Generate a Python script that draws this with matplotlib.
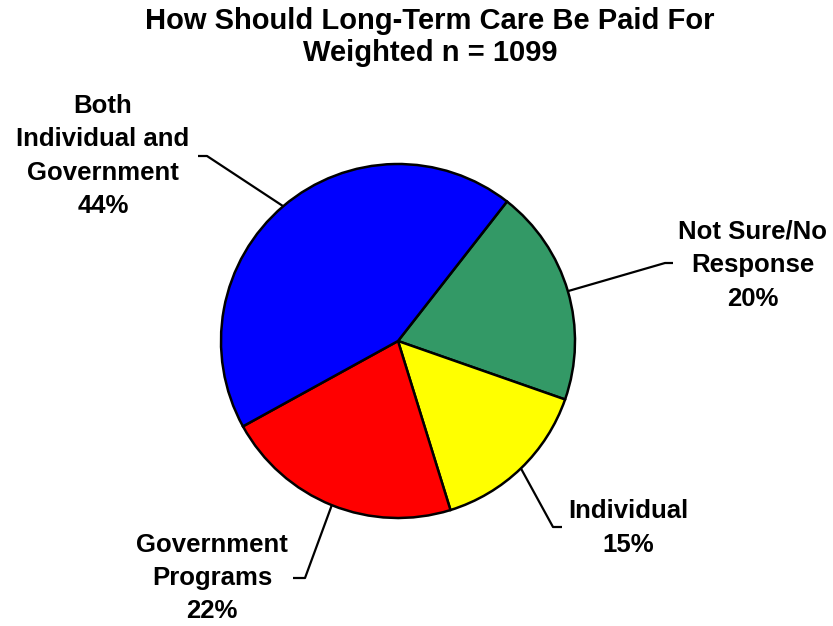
import numpy as np
import matplotlib
matplotlib.use("Agg")
import matplotlib.pyplot as plt

# Survey answers and shares (%)
labels = ["Not Sure/No\nResponse", "Individual", "Government\nPrograms", "Both\nIndividual and\nGovernment"]
shares = [20, 15, 22, 44]
colors = ["#339966", "#FFFF00", "#FF0000", "#0000FF"]

W, H = 833, 626
fig = plt.figure(figsize=(W / 100, H / 100), dpi=100)
ax = fig.add_axes([0, 0, 1, 1])

cx, cy, r = 398, H - 341, 177
wedges, _ = ax.pie(shares, colors=colors, startangle=52, counterclock=False,
                   center=(cx, cy), radius=r,
                   wedgeprops=dict(edgecolor="black", linewidth=1.8))
ax.set_xlim(0, W)
ax.set_ylim(0, H)
ax.set_aspect("equal")
ax.axis("off")

# elbow point of each leader line, end of its short flat tick, and label centre
leaders = [
    ((665, H - 263), (673, H - 263), (753, H - 265)),
    ((553, H - 527), (562, H - 527), (628, H - 528)),
    ((305, H - 578), (293, H - 578), (212, H - 578)),
    ((207, H - 156), (198, H - 156), (103, H - 156)),
]

font = dict(family="Liberation Sans", weight="bold", fontsize=18.5)
for w, lab, val, (elbow, tick, txt) in zip(wedges, labels, shares, leaders):
    mid = np.deg2rad((w.theta1 + w.theta2) / 2)
    ex, ey = cx + r * np.cos(mid), cy + r * np.sin(mid)
    ax.plot([ex, elbow[0], tick[0]], [ey, elbow[1], tick[1]], color="black", lw=1.6,
            solid_capstyle="butt", zorder=0)
    ax.text(txt[0], txt[1], f"{lab}\n{val}%", ha="center", va="center",
            linespacing=1.5, **font)

ax.text(430, H - 37, "How Should Long-Term Care Be Paid For\nWeighted n = 1099",
        ha="center", va="center", linespacing=1.15,
        family="Liberation Sans", weight="bold", fontsize=21)

fig.savefig("out.png", dpi=100)
